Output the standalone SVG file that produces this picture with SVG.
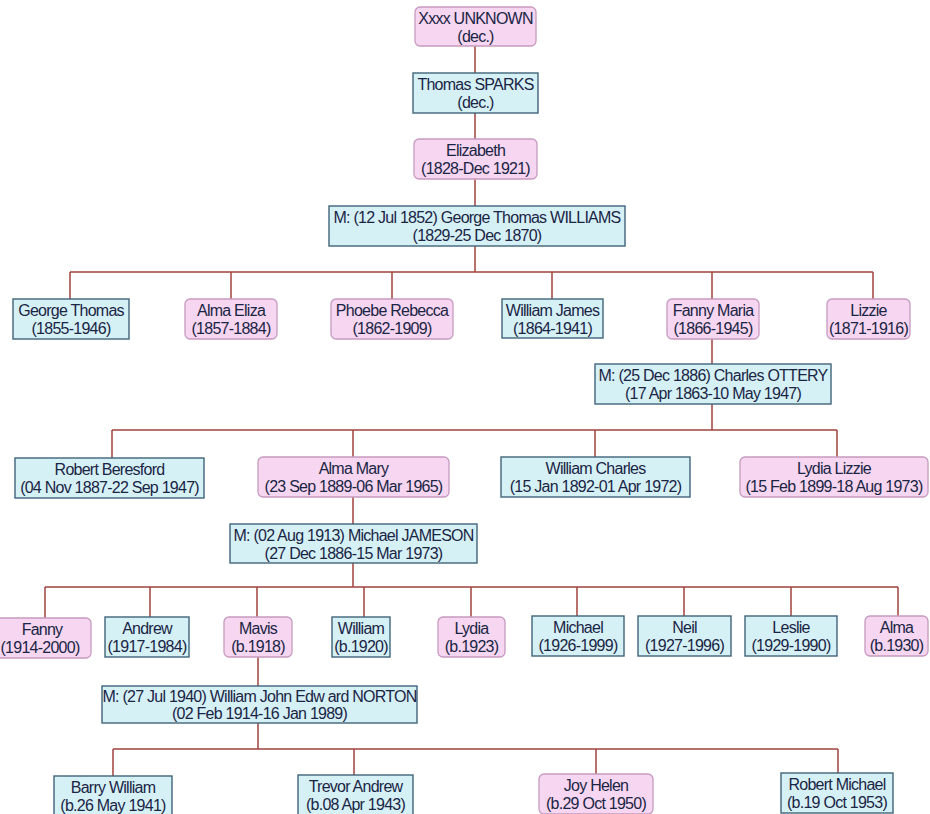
<svg xmlns="http://www.w3.org/2000/svg" width="930" height="814" viewBox="0 0 930 814">
<style>
.f{fill:#f6d6f0;stroke:#c79bbf;stroke-width:1.3}
.m{fill:#d6f1f6;stroke:#3f6479;stroke-width:1.4}
.c{fill:none;stroke:#a2433f;stroke-width:1.5}
text{font-family:"Liberation Sans",Arial,sans-serif;font-size:16px;letter-spacing:-0.75px;fill:#1a2545;text-anchor:middle}
</style>
<rect width="930" height="814" fill="#ffffff"/>
<g id="connectors" class="c">
<path d="M475 46V272M70 272H873M70 272V299M231 272V299M392 272V299M552 272V299M712 272V299M873 272V299"/>
<path d="M712 339V430M112 430H837M112 430V458M353 430V457M595 430V457M837 430V457"/>
<path d="M353 497V587M45 587H898M45 587V618M150 587V617M257 587V617M364 587V617M471 587V617M577 587V616M684 587V616M791 587V616M898 587V616"/>
<path d="M258 657V749M113 749H838M113 749V776M354 749V775M596 749V774M838 749V773"/>
</g>
<g id="n1"><rect class="f" x="415" y="7" width="121" height="39" rx="5"/><text x="475.5" y="24">Xxxx UNKNOWN</text><text x="475.5" y="42">(dec.)</text></g>
<g id="n2"><rect class="m" x="413" y="73" width="125" height="40"/><text x="475.5" y="90">Thomas SPARKS</text><text x="475.5" y="108">(dec.)</text></g>
<g id="n3"><rect class="f" x="414" y="139" width="123" height="40" rx="5"/><text x="475.5" y="156">Elizabeth</text><text x="475.5" y="174">(1828-Dec 1921)</text></g>
<g id="n4"><rect class="m" x="329" y="206" width="296" height="40"/><text x="477" y="223">M: (12 Jul 1852) George Thomas WILLIAMS</text><text x="477" y="241">(1829-25 Dec 1870)</text></g>
<g id="n5"><rect class="m" x="13" y="299" width="116" height="40"/><text x="71" y="316">George Thomas</text><text x="71" y="334">(1855-1946)</text></g>
<g id="n6"><rect class="f" x="185" y="299" width="92" height="40" rx="5"/><text x="231" y="316">Alma Eliza</text><text x="231" y="334">(1857-1884)</text></g>
<g id="n7"><rect class="f" x="331" y="299" width="122" height="40" rx="5"/><text x="392" y="316">Phoebe Rebecca</text><text x="392" y="334">(1862-1909)</text></g>
<g id="n8"><rect class="m" x="502" y="299" width="101" height="39"/><text x="552.5" y="316">William James</text><text x="552.5" y="334">(1864-1941)</text></g>
<g id="n9"><rect class="f" x="667" y="299" width="92" height="40" rx="5"/><text x="713" y="316">Fanny Maria</text><text x="713" y="334">(1866-1945)</text></g>
<g id="n10"><rect class="f" x="827" y="299" width="83" height="40" rx="5"/><text x="868.5" y="316">Lizzie</text><text x="868.5" y="334">(1871-1916)</text></g>
<g id="n11"><rect class="m" x="595" y="364" width="236" height="40"/><text x="713" y="381">M: (25 Dec 1886) Charles OTTERY</text><text x="713" y="399">(17 Apr 1863-10 May 1947)</text></g>
<g id="n12"><rect class="m" x="15" y="458" width="189" height="40"/><text x="109.5" y="475">Robert Beresford</text><text x="109.5" y="493">(04 Nov 1887-22 Sep 1947)</text></g>
<g id="n13"><rect class="f" x="258" y="457" width="191" height="40" rx="5"/><text x="353.5" y="474">Alma Mary</text><text x="353.5" y="492">(23 Sep 1889-06 Mar 1965)</text></g>
<g id="n14"><rect class="m" x="501" y="457" width="189" height="40"/><text x="595.5" y="474">William Charles</text><text x="595.5" y="492">(15 Jan 1892-01 Apr 1972)</text></g>
<g id="n15"><rect class="f" x="740" y="457" width="188" height="40" rx="5"/><text x="834" y="474">Lydia Lizzie</text><text x="834" y="492">(15 Feb 1899-18 Aug 1973)</text></g>
<g id="n16"><rect class="m" x="230" y="524" width="247" height="39"/><text x="353.5" y="541">M: (02 Aug 1913) Michael JAMESON</text><text x="353.5" y="559">(27 Dec 1886-15 Mar 1973)</text></g>
<g id="n17"><rect class="f" x="-12" y="618" width="103" height="40" rx="5"/><text x="42" y="635">Fanny</text><text x="40" y="653">(1914-2000)</text></g>
<g id="n18"><rect class="m" x="105" y="617" width="84" height="40"/><text x="147" y="634">Andrew</text><text x="147" y="652">(1917-1984)</text></g>
<g id="n19"><rect class="f" x="224" y="617" width="68" height="40" rx="5"/><text x="258" y="634">Mavis</text><text x="258" y="652">(b.1918)</text></g>
<g id="n20"><rect class="m" x="332" y="617" width="58" height="40"/><text x="361" y="634">William</text><text x="361" y="652">(b.1920)</text></g>
<g id="n21"><rect class="f" x="438" y="617" width="67" height="40" rx="5"/><text x="471.5" y="634">Lydia</text><text x="471.5" y="652">(b.1923)</text></g>
<g id="n22"><rect class="m" x="532" y="616" width="92" height="40"/><text x="578" y="633">Michael</text><text x="578" y="651">(1926-1999)</text></g>
<g id="n23"><rect class="m" x="638" y="616" width="93" height="40"/><text x="684.5" y="633">Neil</text><text x="684.5" y="651">(1927-1996)</text></g>
<g id="n24"><rect class="m" x="745" y="616" width="92" height="40"/><text x="791" y="633">Leslie</text><text x="791" y="651">(1929-1990)</text></g>
<g id="n25"><rect class="f" x="865" y="616" width="63" height="40" rx="5"/><text x="896.5" y="633">Alma</text><text x="896.5" y="651">(b.1930)</text></g>
<g id="n26"><rect class="m" x="102" y="686" width="315" height="37"/><text x="259.5" y="702">M: (27 Jul 1940) William John Edw ard NORTON</text><text x="259.5" y="719">(02 Feb 1914-16 Jan 1989)</text></g>
<g id="n27"><rect class="m" x="54" y="776" width="118" height="40"/><text x="113" y="793">Barry William</text><text x="113" y="811">(b.26 May 1941)</text></g>
<g id="n28"><rect class="m" x="298" y="775" width="115" height="40"/><text x="355.5" y="792">Trevor Andrew</text><text x="355.5" y="810">(b.08 Apr 1943)</text></g>
<g id="n29"><rect class="f" x="539" y="774" width="114" height="40" rx="5"/><text x="596" y="791">Joy Helen</text><text x="596" y="809">(b.29 Oct 1950)</text></g>
<g id="n30"><rect class="m" x="781" y="773" width="112" height="40"/><text x="837" y="790">Robert Michael</text><text x="837" y="808">(b.19 Oct 1953)</text></g>
</svg>
